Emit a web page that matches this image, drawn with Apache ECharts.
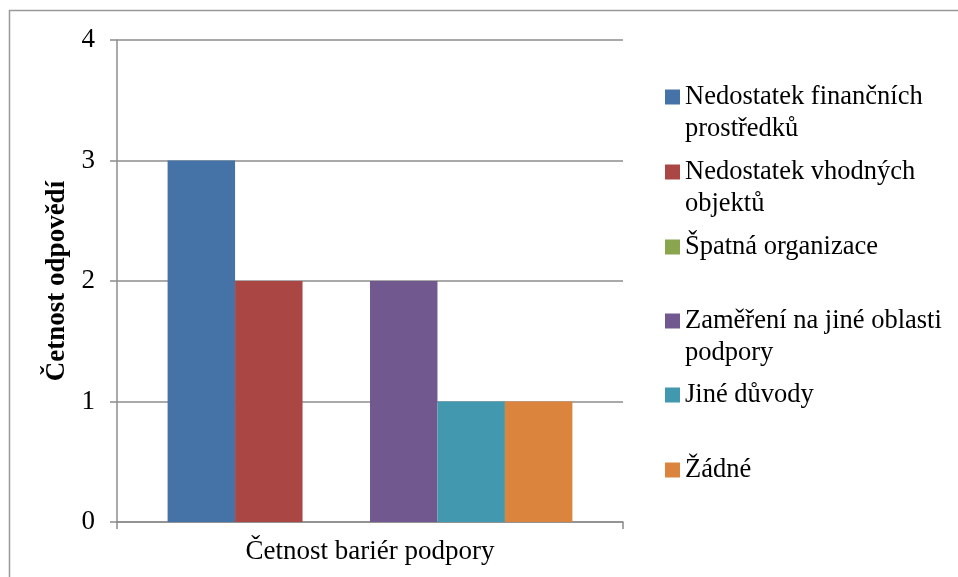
<!DOCTYPE html>
<html>
<head>
<meta charset="utf-8">
<style>
  html, body { margin: 0; padding: 0; background: #fff; }
  #main { width: 958px; height: 577px; }
</style>
<script src="https://cdn.jsdelivr.net/npm/echarts@6/dist/echarts.min.js"></script>
</head>
<body>
<div id="main"></div>
<script>
// data
var categories = ['Četnost bariér podpory'];
var seriesNames = [
  'Nedostatek finančních prostředků',
  'Nedostatek vhodných objektů',
  'Špatná organizace',
  'Zaměření na jiné oblasti podpory',
  'Jiné důvody',
  'Žádné'
];
// legend text as it wraps in the picture
var legendLabels = [
  'Nedostatek finančních\nprostředků',
  'Nedostatek vhodných\nobjektů',
  'Špatná organizace',
  'Zaměření na jiné oblasti\npodpory',
  'Jiné důvody',
  'Žádné'
];
var seriesValues = [3, 2, 0, 2, 1, 1];
var yTicks = [0, 1, 2, 3, 4];

var colors = ['#4572A7', '#AA4643', '#89A54E', '#71588F', '#4198AF', '#DB843D'];
var font = 'Liberation Serif, Times New Roman, serif';
var gray = '#8c8c8c';

var myChart = echarts.init(document.getElementById('main'));

// one legend per item so the spacing is even like in the picture
var iconCenters = [97, 172, 247, 321, 395, 470];
var lineH = 32;
var legends = seriesNames.map(function (name, i) {
  var twoLines = legendLabels[i].indexOf('\n') >= 0;
  return {
    orient: 'vertical',
    left: 665,
    top: twoLines ? iconCenters[i] - lineH * 1.5 : iconCenters[i] - lineH / 2,
    padding: 0,
    itemWidth: 15,
    itemHeight: 15,
    itemGap: 0,
    icon: 'rect',
    selectedMode: false,
    data: [name],
    // blank first line keeps the square level with the first text line
    formatter: function () { return twoLines ? '\n' + legendLabels[i] : legendLabels[i]; },
    textStyle: {
      fontFamily: font,
      fontSize: 26.5,
      color: '#000',
      lineHeight: lineH
    }
  };
});

myChart.setOption({
  animation: false,
  color: colors,
  graphic: [{
    type: 'rect',
    shape: { x: 9.5, y: 10.5, width: 1000, height: 1000 },
    style: { fill: 'none', stroke: '#9a9a9a', lineWidth: 1.5 },
    silent: true
  }],
  legend: legends,
  grid: { left: 117, right: 335, top: 40, bottom: 55 },
  xAxis: {
    type: 'category',
    data: categories,
    axisLine: { lineStyle: { color: gray, width: 1.5 } },
    axisTick: { show: true, length: 7, lineStyle: { color: gray, width: 1.5 } },
    axisLabel: { fontFamily: font, fontSize: 27, color: '#000', margin: 16 }
  },
  yAxis: {
    type: 'value',
    min: yTicks[0],
    max: yTicks[yTicks.length - 1],
    interval: 1,
    name: 'Četnost odpovědí',
    nameLocation: 'middle',
    nameRotate: 90,
    nameGap: 46,
    nameTextStyle: { fontFamily: font, fontSize: 27, fontWeight: 'bold', color: '#000' },
    axisLine: { show: true, lineStyle: { color: gray, width: 1.5 } },
    axisTick: { show: true, length: 7, lineStyle: { color: gray, width: 1.5 } },
    axisLabel: { fontFamily: font, fontSize: 27, color: '#000', margin: 22 },
    splitLine: { show: true, lineStyle: { color: gray, width: 1.5 } }
  },
  series: seriesNames.map(function (name, i) {
    return {
      name: name,
      type: 'bar',
      data: [seriesValues[i]],
      barGap: '0%',
      barCategoryGap: '20%'
    };
  })
});
</script>
</body>
</html>
